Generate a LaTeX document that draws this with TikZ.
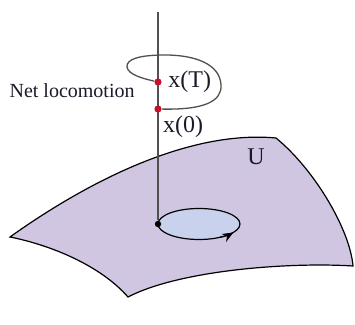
\documentclass[tikz,border=0pt]{standalone}
\usepackage{fontspec}
\setmainfont{Liberation Serif}
\usepackage{tikz}
\usetikzlibrary{positioning, arrows.meta, calc}
\definecolor{sheet}{HTML}{D0C6E2}
\definecolor{disk}{HTML}{C8D2EC}
\definecolor{mark}{HTML}{C8102E}
\definecolor{stem}{HTML}{505050}
\definecolor{text}{HTML}{1A1A2A}

\begin{document}
\begin{tikzpicture}[x=0.5pt, y=-0.5pt,
      dot/.style={circle, inner sep=0pt, minimum size=3.6pt, fill=mark},
      lbl/.style={inner sep=1pt, color=text, font=\fontsize{12}{14}\selectfont},
      edge/.style={line width=0.6pt, color=black},
      arrow/.style={-{Stealth[length=5.5pt, width=4.5pt]}, line width=0.6pt}]

    \useasboundingbox (0,0) rectangle (355,325);

    % the surface U
    \draw[edge, fill=sheet] (10,237) .. controls (90,180) and (190,130) .. (276,138)
      .. controls (315,170) and (350,230) .. (353,266)
      .. controls (290,262) and (180,270) .. (128,297)
      .. controls (100,265) and (50,245) .. (10,237) -- cycle;
    \node[lbl] (u) at (256,157) {U};

    % closed loop in the base
    \coordinate (c) at (199,224);
    \draw[edge, fill=disk] (c) ellipse [x radius=41, y radius=15.5];
    \draw[arrow] ($(c)+(60:41 and 15.5)$) arc[start angle=60, end angle=33,
      x radius=41, y radius=15.5];

    % fibre and net motion
    \coordinate (top) at (158,12);
    \node[dot, fill=black, minimum size=3.2pt] (base) at (158,224) {};
    \draw[line width=0.65pt, color=stem] (top) -- (base);
    \node[dot] (xT) at (158,82) {};
    \node[dot] (x0) at (158,109) {};
    \draw[line width=0.65pt, color=stem] (x0) .. controls (205,110) and (222,101) .. (221,85)
      .. controls (220,64) and (195,55) .. (165,55)
      .. controls (140,55) and (126,59) .. (127,67)
      .. controls (128,75) and (145,79) .. (xT);

    \node[lbl, right=2pt of xT] (lT) {x(T)};
    \node[lbl, below right=1pt and 0pt of x0] (l0) {x(0)};
    \node[lbl, font=\fontsize{10}{12}\selectfont, anchor=east] (net) at (137,91) {Net locomotion};
  \end{tikzpicture}
\end{document}
